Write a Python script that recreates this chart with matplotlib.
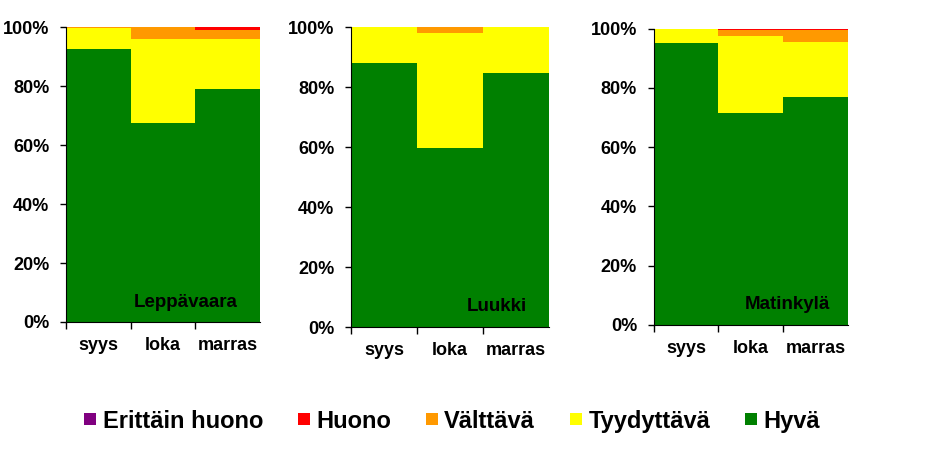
import matplotlib.pyplot as plt
from matplotlib.lines import Line2D
from matplotlib.ticker import PercentFormatter

months = ["syys", "loka", "marras"]
areas = ["Leppävaara", "Luukki", "Matinkylä"]
classes = ["Hyvä", "Tyydyttävä", "Välttävä", "Huono", "Erittäin huono"]
colors = {
    "Hyvä": "#008000",
    "Tyydyttävä": "#FFFF00",
    "Välttävä": "#FF9900",
    "Huono": "#FF0000",
    "Erittäin huono": "#800080",
}

# percent shares per month, one list per class
leppavaara = {
    "Hyvä": [92.5, 67.5, 79.0],
    "Tyydyttävä": [7.3, 28.4, 17.0],
    "Välttävä": [0.2, 4.1, 3.1],
    "Huono": [0.0, 0.0, 0.9],
    "Erittäin huono": [0.0, 0.0, 0.0],
}
luukki = {
    "Hyvä": [88.0, 59.7, 84.8],
    "Tyydyttävä": [12.0, 38.4, 15.2],
    "Välttävä": [0.0, 1.9, 0.0],
    "Huono": [0.0, 0.0, 0.0],
    "Erittäin huono": [0.0, 0.0, 0.0],
}
matinkyla = {
    "Hyvä": [95.3, 71.4, 77.1],
    "Tyydyttävä": [4.7, 26.0, 18.5],
    "Välttävä": [0.0, 2.3, 4.0],
    "Huono": [0.0, 0.3, 0.3],
    "Erittäin huono": [0.0, 0.0, 0.1],
}
data = [leppavaara, luukki, matinkyla]

# axes rectangles in figure fractions (left, bottom, width, height)
rects = [
    (0.0713, 0.312, 0.2095, 0.630),
    (0.379, 0.301, 0.214, 0.641),
    (0.706, 0.3056, 0.2095, 0.633),
]
# area name anchor inside each panel (axes fractions: right edge, baseline)
name_pos = [(0.885, 0.052), (0.89, 0.054), (0.907, 0.054)]

fig = plt.figure(figsize=(9.26, 4.68), dpi=100)
font = "Liberation Sans"

for rect, area, values, pos in zip(rects, areas, data, name_pos):
    ax = fig.add_axes(rect)
    x = range(len(months))
    bottom = [0.0] * len(months)
    for cls in classes:
        ax.bar(x, values[cls], bottom=bottom, width=1.0, color=colors[cls], linewidth=0)
        bottom = [b + v for b, v in zip(bottom, values[cls])]
    ax.set_xlim(-0.5, 2.5)
    ax.set_ylim(0, 100)
    ax.set_yticks([0, 20, 40, 60, 80, 100])
    ax.yaxis.set_major_formatter(PercentFormatter(decimals=0))
    ax.set_xticks(list(x))
    ax.set_xticklabels(months)
    ax.set_xticks([-0.5, 0.5, 1.5], minor=True)
    ax.tick_params(axis="x", which="major", length=0, pad=11)
    ax.tick_params(axis="x", which="minor", length=5, width=1)
    ax.tick_params(axis="y", length=4.5, width=1, pad=7.5)
    for lbl in ax.get_xticklabels() + ax.get_yticklabels():
        lbl.set_fontfamily(font)
        lbl.set_fontweight("bold")
        lbl.set_fontsize(13)
    for side in ["top", "right"]:
        ax.spines[side].set_visible(False)
    ax.text(pos[0], pos[1], area, transform=ax.transAxes, ha="right", va="baseline",
            fontsize=13.5, fontweight="bold", family=font)

handles = [
    Line2D([], [], marker="s", linestyle="none", markersize=9,
           markerfacecolor=colors[c], markeredgewidth=0)
    for c in classes[::-1]
]
fig.legend(handles, classes[::-1], loc="center", bbox_to_anchor=(0.488, 0.1),
           ncol=5, frameon=False, handlelength=0.55, handletextpad=0.25,
           columnspacing=1.45, borderpad=0,
           prop={"family": font, "weight": "bold", "size": 17})

fig.savefig("out.png", dpi=100)
